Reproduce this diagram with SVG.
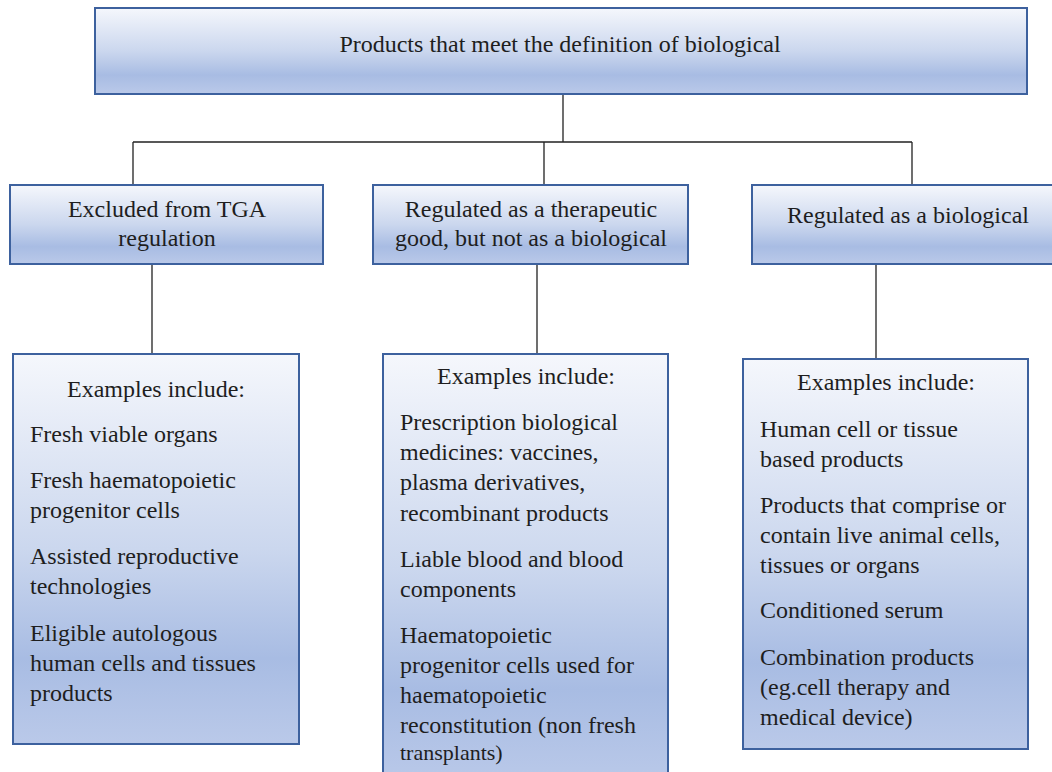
<svg xmlns="http://www.w3.org/2000/svg" width="1052" height="772" viewBox="0 0 1052 772">
<defs>
<linearGradient id="g" x1="0" y1="0" x2="0" y2="1">
<stop offset="0" stop-color="#f5f7fc"/>
<stop offset="0.5" stop-color="#cbd7ee"/>
<stop offset="0.78" stop-color="#a8bce3"/>
<stop offset="1" stop-color="#bac9e9"/>
</linearGradient>
<style>
.box{fill:url(#g);stroke:#3d619e;stroke-width:2}
.t{font-family:"Liberation Serif","Times New Roman",serif;font-size:24px;fill:#1e1e1e}
.c{text-anchor:middle}
.ln{stroke:#222;stroke-width:1.3;fill:none}
</style>
</defs>
<rect width="1052" height="772" fill="#ffffff"/>
<g id="connectors">
<path class="ln" d="M563 94V142M133 142H912M133 142V185M544 142V185M912 142V185"/>
<path class="ln" d="M152 264V354M537 264V354M876 264V359"/>
</g>
<g id="root">
<rect class="box" x="95" y="8" width="932" height="86"/>
<text class="t c" x="560" y="52">Products that meet the definition of biological</text>
</g>
<g id="excluded">
<rect class="box" x="10" y="185" width="313" height="79"/>
<text class="t c" x="167" y="217">Excluded from TGA</text>
<text class="t c" x="167" y="246">regulation</text>
</g>
<g id="therapeutic">
<rect class="box" x="373" y="185" width="315" height="79"/>
<text class="t c" x="531" y="217">Regulated as a therapeutic</text>
<text class="t c" x="531" y="246">good, but not as a biological</text>
</g>
<g id="biological">
<rect class="box" x="752" y="185" width="312" height="79"/>
<text class="t c" x="908" y="223">Regulated as a biological</text>
</g>
<g id="examples-excluded">
<rect class="box" x="13" y="354" width="286" height="390"/>
<text class="t c" x="156" y="397">Examples include:</text>
<text class="t" x="30" y="442">Fresh viable organs</text>
<text class="t" x="30" y="488">Fresh haematopoietic</text>
<text class="t" x="30" y="518">progenitor cells</text>
<text class="t" x="30" y="564">Assisted reproductive</text>
<text class="t" x="30" y="594">technologies</text>
<text class="t" x="30" y="641">Eligible autologous</text>
<text class="t" x="30" y="671">human cells and tissues</text>
<text class="t" x="30" y="701">products</text>
</g>
<g id="examples-therapeutic">
<rect class="box" x="383" y="354" width="285" height="430"/>
<text class="t c" x="526" y="384">Examples include:</text>
<text class="t" x="400" y="430">Prescription biological</text>
<text class="t" x="400" y="460">medicines: vaccines,</text>
<text class="t" x="400" y="490">plasma derivatives,</text>
<text class="t" x="400" y="521">recombinant products</text>
<text class="t" x="400" y="567">Liable blood and blood</text>
<text class="t" x="400" y="597">components</text>
<text class="t" x="400" y="643">Haematopoietic</text>
<text class="t" x="400" y="673">progenitor cells used for</text>
<text class="t" x="400" y="703">haematopoietic</text>
<text class="t" x="400" y="733">reconstitution (non fresh</text>
<text class="t" x="400" y="760" style="font-size:22px">transplants)</text>
</g>
<g id="examples-biological">
<rect class="box" x="743" y="359" width="285" height="390"/>
<text class="t c" x="886" y="390">Examples include:</text>
<text class="t" x="760" y="437">Human cell or tissue</text>
<text class="t" x="760" y="467">based products</text>
<text class="t" x="760" y="513">Products that comprise or</text>
<text class="t" x="760" y="543">contain live animal cells,</text>
<text class="t" x="760" y="573">tissues or organs</text>
<text class="t" x="760" y="618">Conditioned serum</text>
<text class="t" x="760" y="665">Combination products</text>
<text class="t" x="760" y="695">(eg.cell therapy and</text>
<text class="t" x="760" y="725">medical device)</text>
</g>
</svg>
